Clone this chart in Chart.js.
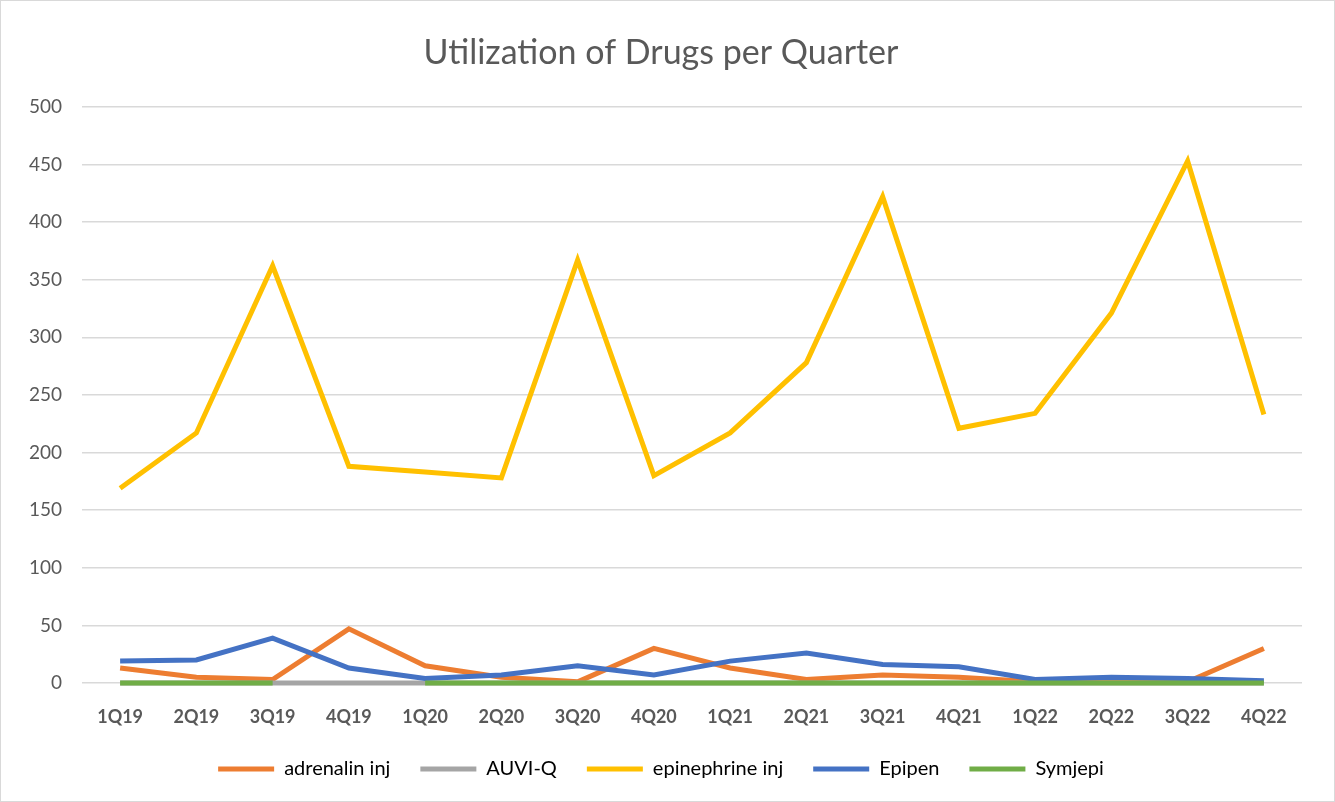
<!DOCTYPE html>
<html>
<head>
<meta charset="utf-8">
<script src="https://cdn.jsdelivr.net/npm/chart.js@4"></script>
<style>
  html, body { margin: 0; padding: 0; background: #fff; }
  #wrap { width: 1333px; height: 800px; border: 1px solid #d9d9d9; }
</style>
</head>
<body>
<div id="wrap"><canvas id="drugChart" width="1333" height="800"></canvas></div>
<script>
// data
const quarters = ['1Q19','2Q19','3Q19','4Q19','1Q20','2Q20','3Q20','4Q20','1Q21','2Q21','3Q21','4Q21','1Q22','2Q22','3Q22','4Q22'];
const adrenalinInj = [13, 5, 3, 47, 15, 5, 1, 30, 13, 3, 7, 5, 1, 1, 1, 30];
const auviQ = [0, 0, 0, 0, 0, 0, 0, 0, 0, 0, 0, 0, 0, 0, 0, 0];
const epinephrineInj = [169, 217, 362, 188, 183, 178, 367, 180, 217, 278, 422, 221, 234, 321, 453, 233];
const epipen = [19, 20, 39, 13, 4, 7, 15, 7, 19, 26, 16, 14, 3, 5, 4, 2];
const symjepi = [0, 0, 0, null, 0, 0, 0, 0, 0, 0, 0, 0, 0, 0, 0, 0];
const yTicks = [0, 50, 100, 150, 200, 250, 300, 350, 400, 450, 500];

const fontFam = 'Lato, "Open Sans", sans-serif';
const textGrey = '#595959';

// later series sit on top, like the spreadsheet does it
function series(label, data, color, idx) {
    return {
        label: label,
        data: data,
        borderColor: color,
        backgroundColor: color,
        borderWidth: 5,
        pointRadius: 0,
        pointStyle: 'line',
        tension: 0,
        spanGaps: false,
        clip: false,
        order: 10 - idx
    };
}

const ctx = document.getElementById('drugChart').getContext('2d');
const chart = new Chart(ctx, {
    type: 'line',
    data: {
        labels: quarters,
        datasets: [
            series('adrenalin inj', adrenalinInj, '#ED7D31', 0),
            series('AUVI-Q', auviQ, '#A5A5A5', 1),
            series('epinephrine inj', epinephrineInj, '#FFC000', 2),
            series('Epipen', epipen, '#4472C4', 3),
            series('Symjepi', symjepi, '#70AD47', 4)
        ]
    },
    options: {
        responsive: false,
        animation: false,
        layout: { padding: { left: 19, right: 32, top: 0, bottom: 12 } },
        plugins: {
            title: {
                display: true,
                text: 'Utilization of Drugs per Quarter',
                color: textGrey,
                font: { family: fontFam, size: 34, weight: 'normal' },
                padding: { top: 32, bottom: 33 }
            },
            legend: {
                position: 'bottom',
                labels: {
                    usePointStyle: true,
                    pointStyleWidth: 56,
                    boxHeight: 19,
                    color: '#000',
                    font: { family: fontFam, size: 20 },
                    padding: 30,
                    sort: (a, b) => a.datasetIndex - b.datasetIndex
                }
            },
            tooltip: { enabled: false }
        },
        scales: {
            x: {
                offset: true,
                grid: { display: false, drawTicks: false },
                border: { display: false },
                ticks: {
                    color: textGrey,
                    font: { family: fontFam, size: 18, weight: 'bold' },
                    padding: 23,
                    maxRotation: 0
                },
                afterFit: function (scale) { scale.height = 46; }
            },
            y: {
                min: 0,
                max: 500,
                afterBuildTicks: function (scale) {
                    scale.ticks = yTicks.map(v => ({ value: v }));
                },
                grid: { color: '#d9d9d9', lineWidth: 1.5, drawTicks: false },
                border: { display: false },
                ticks: {
                    color: textGrey,
                    font: { family: fontFam, size: 19 },
                    padding: 20
                },
                afterFit: function (scale) { scale.width = 62; }
            }
        }
    }
});
</script>
</body>
</html>
